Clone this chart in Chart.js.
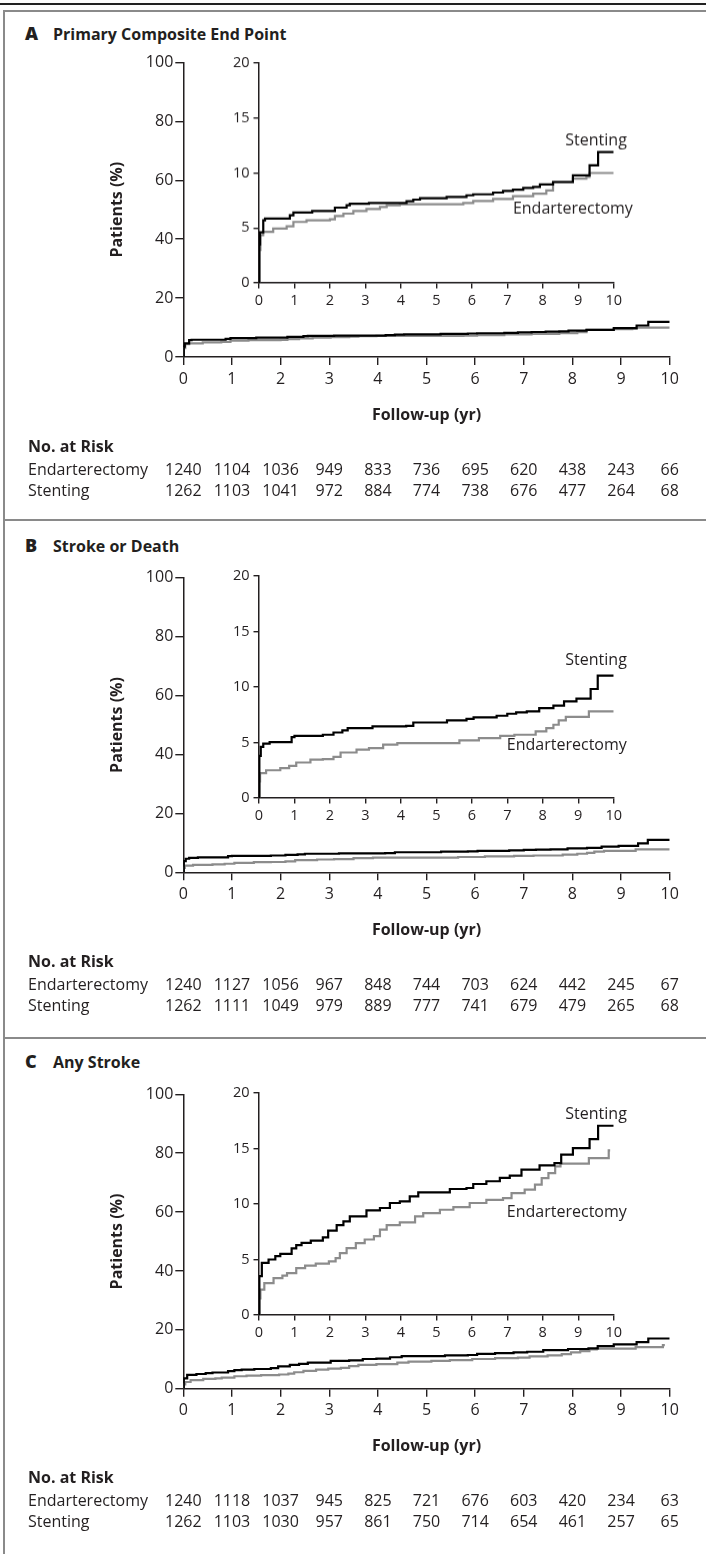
<!DOCTYPE html>
<html>
<head>
<meta charset="utf-8">
<script src="https://cdn.jsdelivr.net/npm/chart.js@4.4.1/dist/chart.umd.min.js"></script>
<style>
  html, body { margin: 0; padding: 0; background: #fff; }
  #fig { position: relative; width: 706px; height: 1554px; overflow: hidden;
         font-family: 'Open Sans', sans-serif; color: #231f20; }
  .rule { position: absolute; left: 0; right: 0; top: 3px; height: 2px; background: #222; }
  .box { position: absolute; left: 3px; top: 10px; right: -10px; bottom: -10px;
         border-left: 2px solid #8a8a8a; border-top: 2px solid #8a8a8a; }
  .sep { position: absolute; left: 3px; right: 0; height: 2px; background: #8a8a8a; }
  .ttl { position: absolute; left: 25px; font-weight: 700; font-size: 16px; line-height: 20px; white-space: nowrap; }
  .ttl b { display: inline-block; width: 28px; font-size: 18px; }
  canvas { position: absolute; }
</style>
</head>
<body>
<div id="fig">
  <div class="rule"></div>
  <div class="box"></div>
  <div class="sep" style="top:519px"></div>
  <div class="sep" style="top:1037px"></div>
  <div class="ttl" style="top:23px"><b>A</b>Primary Composite End Point</div>
  <div class="ttl" style="top:535px"><b>B</b>Stroke or Death</div>
  <div class="ttl" style="top:1051px"><b>C</b>Any Stroke</div>
</div>
<script>
// tick labels
const years = [0, 1, 2, 3, 4, 5, 6, 7, 8, 9, 10];
const mainTicks = [0, 20, 40, 60, 80, 100];
const insetTicks = [0, 5, 10, 15, 20];

// A: primary composite end point, [year, cumulative %]
const primaryStenting = [[0,0],[0.01,3.5],[0.03,4.6],[0.12,5.7],[0.17,5.85],[0.87,6.15],[0.97,6.4],[1.5,6.55],
  [2.14,6.85],[2.47,7.06],[2.56,7.2],[3.1,7.27],[4.16,7.43],[4.35,7.58],[4.54,7.7],[5.29,7.82],[5.85,7.97],
  [6.04,8.06],[6.6,8.22],[6.88,8.37],[7.16,8.49],[7.45,8.64],[7.73,8.73],[7.92,8.97],[8.29,9.18],[8.85,9.79],
  [9.32,10.7],[9.56,11.9],[10,11.9]];
const primaryEndart = [[0,0],[0.01,3.0],[0.04,4.34],[0.12,4.64],[0.4,4.94],[0.78,5.15],[0.97,5.55],[1.34,5.7],
  [2.0,5.79],[2.14,6.09],[2.38,6.3],[2.66,6.55],[3.03,6.73],[3.41,6.91],[3.6,7.06],[3.97,7.15],[5.76,7.27],
  [6.04,7.45],[6.6,7.64],[7.16,7.88],[7.73,8.12],[8.1,8.42],[8.29,9.18],[8.85,9.49],[9.23,9.64],[9.32,10.0],[10,10.0]];
const primaryRiskEndart = [1240, 1104, 1036, 949, 833, 736, 695, 620, 438, 243, 66];
const primaryRiskStent = [1262, 1103, 1041, 972, 884, 774, 738, 676, 477, 264, 68];

// B: stroke or death
const strokeDeathStenting = [[0,0],[0.01,3.8],[0.05,4.6],[0.12,4.9],[0.3,5.04],[0.92,5.49],[1.0,5.6],[1.8,5.7],
  [2.1,5.9],[2.35,6.1],[2.5,6.3],[3.2,6.45],[4.15,6.5],[4.35,6.8],[5.3,7.0],[5.85,7.12],[6.05,7.26],[6.7,7.41],
  [7.0,7.59],[7.25,7.71],[7.55,7.8],[7.9,8.1],[8.3,8.32],[8.6,8.7],[8.95,8.95],[9.35,9.82],[9.55,11.02],[10,11.02]];
const strokeDeathEndart = [[0,0],[0.01,1.5],[0.03,2.25],[0.2,2.5],[0.6,2.7],[0.85,2.9],[1.05,3.2],[1.45,3.45],
  [1.8,3.5],[2.1,3.7],[2.3,4.1],[2.75,4.35],[3.1,4.5],[3.5,4.8],[3.9,4.95],[5.65,5.2],[6.2,5.4],[6.8,5.6],
  [7.2,5.7],[7.8,6.0],[8.1,6.3],[8.3,6.6],[8.45,7.0],[8.65,7.3],[9.3,7.8],[10,7.8]];
const strokeDeathRiskEndart = [1240, 1127, 1056, 967, 848, 744, 703, 624, 442, 245, 67];
const strokeDeathRiskStent = [1262, 1111, 1049, 979, 889, 777, 741, 679, 479, 265, 68];

// C: any stroke
const anyStrokeStenting = [[0,0],[0.01,3.5],[0.08,4.7],[0.27,5.0],[0.46,5.3],[0.6,5.5],[0.92,6.0],[1.05,6.3],
  [1.2,6.5],[1.46,6.7],[1.8,7.0],[1.95,7.6],[2.19,8.1],[2.38,8.43],[2.56,8.88],[3.03,9.42],[3.41,9.64],
  [3.69,10.09],[3.97,10.23],[4.25,10.68],[4.49,11.05],[5.38,11.35],[5.85,11.44],[6.04,11.8],[6.41,12.05],
  [6.79,12.35],[7.07,12.55],[7.4,13.09],[7.91,13.48],[8.33,13.69],[8.52,14.44],[8.85,15.04],[9.32,15.85],
  [9.56,17.05],[10,17.05]];
const anyStrokeEndart = [[0,0],[0.01,1.5],[0.04,2.28],[0.15,2.88],[0.41,3.33],[0.66,3.54],[0.79,3.78],[1.05,4.23],
  [1.3,4.44],[1.6,4.62],[1.97,4.83],[2.16,5.13],[2.28,5.58],[2.47,6.03],[2.73,6.48],[2.98,6.8],[3.24,7.1],
  [3.41,7.7],[3.6,8.1],[3.97,8.35],[4.4,8.88],[4.63,9.18],[5.1,9.48],[5.48,9.72],[5.94,10.09],[6.41,10.38],
  [6.88,10.53],[7.12,10.98],[7.49,11.29],[7.78,11.74],[7.97,12.34],[8.16,12.79],[8.35,13.39],[8.5,13.63],
  [9.3,14.14],[9.86,14.83],[9.9,14.83]];
const anyStrokeRiskEndart = [1240, 1118, 1037, 945, 825, 721, 676, 603, 420, 234, 63];
const anyStrokeRiskStent = [1262, 1103, 1030, 957, 861, 750, 714, 654, 461, 257, 65];

const INK = '#231f20';
const GREY = '#8c8c8c';
const FONT = "'Open Sans', sans-serif";
Chart.defaults.font.family = FONT;
Chart.defaults.color = INK;

// panel layout (page pixels)
const panels = [
  { line: 10, next: 519, main: [62.4, 357], inset: [63.3, 282.7],
    stent: primaryStenting, endart: primaryEndart, riskE: primaryRiskEndart, riskS: primaryRiskStent,
    tags: [['Stenting', 10.37, 12.9], ['Endarterectomy', 10.54, 6.7]] },
  { line: 519, next: 1037, main: [577.7, 872.3], inset: [576, 798.3],
    stent: strokeDeathStenting, endart: strokeDeathEndart, riskE: strokeDeathRiskEndart, riskS: strokeDeathRiskStent,
    tags: [['Stenting', 10.37, 12.4], ['Endarterectomy', 10.37, 4.73]] },
  { line: 1037, next: 1556, main: [1094.3, 1388.7], inset: [1093.3, 1315.3],
    stent: anyStrokeStenting, endart: anyStrokeEndart, riskE: anyStrokeRiskEndart, riskS: anyStrokeRiskStent,
    tags: [['Stenting', 10.37, 18.1], ['Endarterectomy', 10.37, 9.26]] }
];

const fig = document.getElementById('fig');
function addCanvas(left, top, w, h) {
  const cv = document.createElement('canvas');
  cv.width = w; cv.height = h;
  cv.style.left = left + 'px'; cv.style.top = top + 'px';
  cv.style.width = w + 'px'; cv.style.height = h + 'px';
  fig.appendChild(cv);
  return cv;
}

function series(points, color) {
  return {
    data: points.map(([x, y]) => ({ x, y })),
    borderColor: color,
    borderWidth: 2.2,
    stepped: 'before',
    pointRadius: 0,
    fill: false
  };
}

const riskTable = {
  id: 'riskTable',
  afterDraw(chart, args, opts) {
    const { ctx, chartArea } = chart;
    const x = chart.scales.x;
    ctx.save();
    ctx.fillStyle = INK;
    ctx.textBaseline = 'middle';
    ctx.textAlign = 'left';
    ctx.font = 'bold 16px ' + FONT;
    ctx.fillText('No. at Risk', 28, chartArea.bottom + 90);
    ctx.font = '16px ' + FONT;
    opts.rows.forEach((row, r) => {
      const y = chartArea.bottom + 113 + r * 21;
      ctx.textAlign = 'left';
      ctx.fillText(row[0], 28, y);
      ctx.textAlign = 'center';
      row[1].forEach((n, i) => ctx.fillText(String(n), x.getPixelForValue(years[i]), y));
    });
    ctx.restore();
  }
};

const curveTags = {
  id: 'curveTags',
  afterDraw(chart, args, opts) {
    const { ctx, scales: { x, y } } = chart;
    ctx.save();
    ctx.fillStyle = INK;
    ctx.font = '16px ' + FONT;
    ctx.textAlign = 'right';
    ctx.textBaseline = 'middle';
    opts.tags.forEach(t => ctx.fillText(t[0], x.getPixelForValue(t[1]), y.getPixelForValue(t[2])));
    ctx.restore();
  }
};

function axis(ticksArr, min, max, o) {
  return {
    type: 'linear', min, max,
    afterBuildTicks: s => { s.ticks = ticksArr.map(v => ({ value: v })); },
    afterFit: o.fit,
    grid: { drawOnChartArea: false, drawTicks: true, tickLength: o.tick, color: INK, lineWidth: 1.4 },
    border: { display: true, color: INK, width: 1.5 },
    ticks: { font: { size: o.size }, color: INK, padding: o.pad, maxRotation: 0, autoSkip: false },
    title: o.title || { display: false }
  };
}

panels.forEach(p => {
  // main chart, 0-100 %
  const top = p.line + 2, h = p.next - p.line - 2;
  const X_H = 70, Y_W = 183.3 - 100;
  new Chart(addCanvas(0, top, 706, h), {
    type: 'line',
    data: { datasets: [series(p.stent, '#000'), series(p.endart, GREY)] },
    options: {
      responsive: false, animation: false, events: [],
      layout: { padding: { left: 100, right: 706 - 669.7, top: p.main[0] - top, bottom: top + h - (p.main[1] + X_H) } },
      plugins: { legend: { display: false }, tooltip: { enabled: false },
        riskTable: { rows: [['Endarterectomy', p.riskE], ['Stenting', p.riskS]] } },
      scales: {
        x: axis(years, 0, 10, { fit: s => { s.height = X_H; }, tick: 8, size: 16, pad: 4.5,
          title: { display: true, text: 'Follow-up (yr)', color: INK, font: { size: 16, weight: 'bold' }, padding: { top: 0, bottom: 2.4 } } }),
        y: axis(mainTicks, 0, 100, { fit: s => { s.width = Y_W; }, tick: 8, size: 16, pad: 2,
          title: { display: true, text: 'Patients (%)', color: INK, font: { size: 16, weight: 'bold' }, padding: { top: 7.4, bottom: 0 } } })
      }
    },
    plugins: [riskTable]
  });

  // inset chart, 0-20 %
  const iTop = p.inset[0] - 15;
  const iH = 15 + (p.inset[1] - p.inset[0]) + 28 + 4;
  new Chart(addCanvas(200, iTop, 506, iH), {
    type: 'line',
    data: { datasets: [series(p.stent, '#000'), series(p.endart, GREY)] },
    options: {
      responsive: false, animation: false, events: [],
      layout: { padding: { left: 18, right: 706 - 613.7, top: 15, bottom: 4 } },
      plugins: { legend: { display: false }, tooltip: { enabled: false }, curveTags: { tags: p.tags } },
      scales: {
        x: axis(years, 0, 10, { fit: s => { s.height = 28; }, tick: 5.5, size: 14.5, pad: 4 }),
        y: axis(insetTicks, 0, 20, { fit: s => { s.width = 41; }, tick: 5.5, size: 14.5, pad: 4 })
      }
    },
    plugins: [curveTags]
  });
});
</script>
</body>
</html>
